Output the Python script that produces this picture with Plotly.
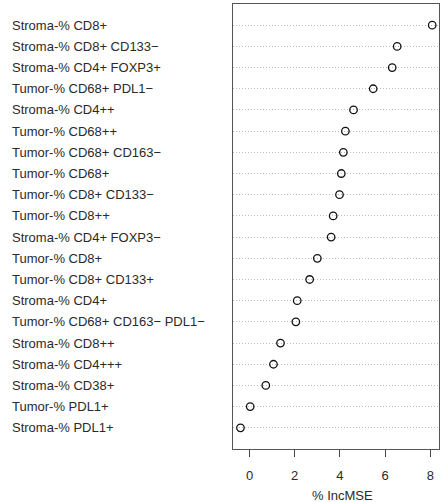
import plotly.graph_objects as go

labels = [
    "Stroma-% CD8+",
    "Stroma-% CD8+ CD133\u2212",
    "Stroma-% CD4+ FOXP3+",
    "Tumor-% CD68+ PDL1\u2212",
    "Stroma-% CD4++",
    "Tumor-% CD68++",
    "Tumor-% CD68+ CD163\u2212",
    "Tumor-% CD68+",
    "Tumor-% CD8+ CD133\u2212",
    "Tumor-% CD8++",
    "Stroma-% CD4+ FOXP3\u2212",
    "Tumor-% CD8+",
    "Tumor-% CD8+ CD133+",
    "Stroma-% CD4+",
    "Tumor-% CD68+ CD163\u2212 PDL1\u2212",
    "Stroma-% CD8++",
    "Stroma-% CD4+++",
    "Stroma-% CD38+",
    "Tumor-% PDL1+",
    "Stroma-% PDL1+",
]
inc_mse = [8.08, 6.53, 6.31, 5.47, 4.60, 4.24, 4.15, 4.06, 3.98, 3.70,
           3.61, 3.00, 2.66, 2.11, 2.05, 1.37, 1.06, 0.72, 0.03, -0.40]
x_ticks = [0, 2, 4, 6, 8]
x_title = "% IncMSE"

rows = list(range(1, len(labels) + 1))

W, H = 440, 502
L, R, T, B = 233, 1, 4, 53
FONT = "Liberation Sans, Arial, Helvetica, sans-serif"
TXT = "#2a2a2a"

fig = go.Figure()
fig.add_trace(go.Scatter(
    x=inc_mse, y=rows, mode="markers",
    marker=dict(symbol="circle-open", size=7.5, color="#111",
                line=dict(width=1.3, color="#111")),
    hoverinfo="skip", showlegend=False,
))

annotations = []
for r, lab in zip(rows, labels):
    annotations.append(dict(
        x=0, xref="paper", y=r, yref="y", text=lab, showarrow=False,
        xanchor="left", yanchor="middle", xshift=10 - L,
        font=dict(family=FONT, size=13, color=TXT),
    ))
annotations.append(dict(
    x=(342 - L) / (W - L - R), xref="paper", y=0, yref="paper",
    yshift=-(495 - (H - B)), text=x_title, showarrow=False,
    xanchor="center", yanchor="middle",
    font=dict(family=FONT, size=13, color=TXT),
))

fig.update_layout(
    width=W, height=H,
    margin=dict(l=L, r=R, t=T, b=B, pad=0),
    paper_bgcolor="white", plot_bgcolor="white",
    font=dict(family=FONT, size=13, color=TXT),
    annotations=annotations,
    xaxis=dict(
        range=[-0.73, 8.38], tickvals=x_ticks, ticks="outside", ticklen=7,
        tickwidth=1, tickcolor="#444", showgrid=False, zeroline=False,
        showline=True, linecolor="#555", linewidth=1.2, mirror=True,
        ticklabelstandoff=7,
        tickfont=dict(family=FONT, size=13, color=TXT),
    ),
    yaxis=dict(
        range=[21, 0], tickvals=rows, showticklabels=False, ticks="",
        showgrid=True, gridcolor="#bdbdbd", griddash="1px,2px", gridwidth=1,
        zeroline=False, showline=True, linecolor="#555", linewidth=1.2,
        mirror=True,
    ),
)

fig.write_html("out.html")
